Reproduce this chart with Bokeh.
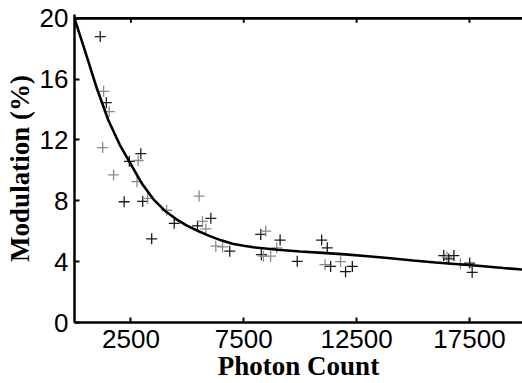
from bokeh.plotting import figure
from bokeh.models import FixedTicker, Range1d, ColumnDataSource, Span
from bokeh.embed import file_html
from bokeh.resources import INLINE

# Measured points (photon count, modulation %), and their shade
pt_x = [1140, 1290, 1410, 1540, 1250, 1730, 2200, 2430, 2820, 2940, 2770, 3020,
        3240, 3420, 4080, 4420, 5520, 5450, 5670, 5820, 6040, 6260, 6560, 6880,
        8250, 8470, 8280, 8370, 8690, 9110, 8960, 9870, 10950, 11200, 11100,
        11350, 11790, 12010, 12310, 16360, 16500, 16580, 16810, 17100, 17510, 17620]
pt_y = [18.8, 15.2, 14.45, 13.86, 11.5, 9.7, 7.94, 10.6, 10.65, 11.1, 9.26, 7.96,
        8.16, 5.5, 7.38, 6.52, 8.31, 6.35, 6.65, 6.15, 6.85, 5.02, 4.97, 4.69,
        5.79, 6.01, 4.46, 4.36, 4.36, 5.42, 4.91, 4.02, 5.42, 4.91, 3.8,
        3.69, 4.0, 3.34, 3.69, 4.4, 4.3, 4.18, 4.4, 3.87, 3.91, 3.3]
pt_shade = ["k", "g", "k", "g", "g", "g", "k", "k", "g", "k", "g", "k",
            "g", "k", "g", "k", "g", "k", "g", "g", "k", "g", "g", "k",
            "k", "g", "k", "g", "g", "k", "g", "k", "k", "k", "g",
            "k", "g", "k", "k", "k", "g", "k", "k", "g", "k", "k"]

# Fitted curve
fit_x = [0, 500, 1000, 1500, 2000, 2500, 3000, 3500, 4000, 4500, 5000, 5500, 6000,
         6500, 7000, 7500, 8000, 9000, 10000, 11000, 12000, 13000, 14000, 15000,
         16000, 17000, 18000, 19000, 20000]
fit_y = [20, 17.7, 15.35, 13.3, 11.7, 10.4, 9.1, 8.1, 7.35, 6.8, 6.35, 6.0, 5.68,
         5.4, 5.18, 5.05, 4.93, 4.78, 4.67, 4.58, 4.48, 4.36, 4.22, 4.08,
         3.95, 3.83, 3.71, 3.58, 3.46]

x_ticks = [2500, 7500, 12500, 17500]
y_ticks = [0, 4, 8, 12, 16, 20]
y_top = y_ticks[-1]
x_lo, x_hi = 0, 19850

shade_color = {"k": "#1a1a1a", "g": "#8a8a8a"}

p = figure(width=522, height=383, output_backend="svg", toolbar_location=None,
           x_range=Range1d(x_lo, x_hi), y_range=Range1d(0, y_top + 0.25),
           min_border_left=74, min_border_right=0, min_border_top=14, min_border_bottom=10)
p.title.visible = False
p.outline_line_color = None
p.xgrid.visible = False
p.ygrid.visible = False
p.background_fill_color = "white"
p.border_fill_color = "white"

src = ColumnDataSource(dict(x=pt_x, y=pt_y, c=[shade_color[s] for s in pt_shade]))
p.scatter("x", "y", source=src, marker="cross", size=11, line_color="c", line_width=1.3)
p.line(fit_x, fit_y, line_color="black", line_width=2.6)

# top border of the box and its inward ticks
p.line([x_lo, x_hi], [y_top, y_top], line_color="black", line_width=2.5)
p.segment(x0=x_ticks, y0=[y_top] * len(x_ticks), x1=x_ticks,
          y1=[y_top - 0.3] * len(x_ticks), line_color="black", line_width=2)
p.add_layout(Span(location=y_top, dimension="width", line_color="black", line_width=2.5))

tick_font = "Liberation Sans"
for ax in [p.xaxis[0], p.yaxis[0]]:
    ax.axis_line_width = 2.5
    ax.axis_line_color = "black"
    ax.major_tick_in = 5
    ax.major_tick_out = 0
    ax.major_tick_line_width = 2
    ax.minor_tick_line_color = None
    ax.major_label_text_font = tick_font
    ax.major_label_text_font_size = "26px"
    ax.major_label_text_color = "black"
    ax.axis_label_text_font = "Liberation Serif"
    ax.axis_label_text_font_style = "bold"
    ax.axis_label_text_font_size = "27px"
    ax.axis_label_text_color = "black"

p.xaxis[0].ticker = FixedTicker(ticks=x_ticks)
p.yaxis[0].ticker = FixedTicker(ticks=y_ticks)
p.xaxis[0].axis_label = "Photon Count"
p.yaxis[0].axis_label = "Modulation (%)"
p.xaxis[0].major_label_standoff = 7
p.xaxis[0].axis_label_standoff = 0
p.yaxis[0].major_label_standoff = 6
p.yaxis[0].axis_label_standoff = 2

open("out.html", "w").write(file_html(p, INLINE))
